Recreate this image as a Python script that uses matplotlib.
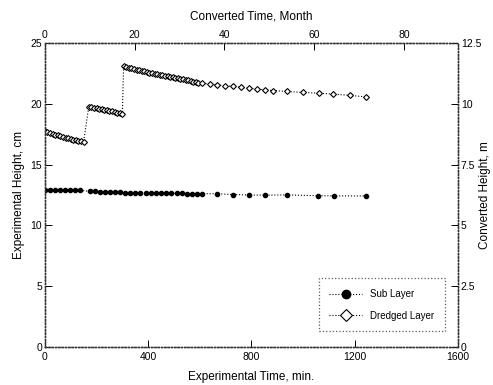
import matplotlib
matplotlib.use("Agg")
import matplotlib.pyplot as plt

plt.rcParams["font.family"] = ["Liberation Sans", "DejaVu Sans"]

# Sub layer (filled circles)
sub_time = [0, 20, 39, 58, 78, 97, 117, 136,
            175, 194, 213, 233, 252, 272, 291,
            310, 330, 350, 370, 390, 410, 430, 450, 470, 490, 510, 530, 550, 570, 590, 608,
            667, 729, 791, 853, 938, 1058, 1120, 1244]
sub_height = [12.95, 12.93, 12.92, 12.91, 12.90, 12.90, 12.89, 12.88,
              12.80, 12.79, 12.78, 12.78, 12.77, 12.77, 12.76,
              12.68, 12.68, 12.67, 12.67, 12.66, 12.66, 12.65, 12.65, 12.64, 12.64, 12.63,
              12.63, 12.62, 12.62, 12.61, 12.61,
              12.60, 12.54, 12.50, 12.49, 12.51, 12.44, 12.43, 12.42]

# Dredged layer (open diamonds)
dredged_time = [0, 10, 20, 30, 40, 50, 60, 70, 80, 90, 100, 110, 120, 130, 140, 150,
                170, 180, 190, 200, 210, 220, 230, 240, 250, 260, 270, 280, 290, 300,
                305, 315, 325, 335, 345, 355, 365, 375, 385, 395, 405, 415, 425, 435, 445,
                455, 465, 475, 485, 495, 505, 515, 525, 535, 545, 555, 565, 575, 585, 595,
                607, 640, 667, 698, 729, 760, 791, 822, 853, 884, 938, 1000, 1062, 1116,
                1182, 1244]
dredged_height = [17.76, 17.68, 17.60, 17.53, 17.47, 17.41, 17.35, 17.29, 17.23, 17.17,
                  17.11, 17.06, 17.01, 16.96, 16.91, 16.87,
                  19.75, 19.72, 19.68, 19.64, 19.60, 19.56, 19.52, 19.47, 19.43, 19.38,
                  19.33, 19.28, 19.23, 19.18,
                  23.10, 23.04, 22.98, 22.93, 22.88, 22.82, 22.77, 22.72, 22.67, 22.62,
                  22.56, 22.51, 22.47, 22.43, 22.39, 22.35, 22.31, 22.27, 22.23, 22.19,
                  22.15, 22.11, 22.07, 22.03, 21.98, 21.93, 21.87, 21.82, 21.77, 21.73,
                  21.70, 21.62, 21.56, 21.50, 21.43, 21.36, 21.28, 21.22, 21.15, 21.10,
                  21.02, 20.94, 20.88, 20.80, 20.70, 20.57]

BOTTOM_TICKS = [0, 400, 800, 1200, 1600]
LEFT_TICKS = [0, 5, 10, 15, 20, 25]
TOP_TICKS = [0, 20, 40, 60, 80]
RIGHT_TICKS = [0, 2.5, 5, 7.5, 10, 12.5]
RIGHT_TICK_LABELS = ["0", "2.5", "5", "7.5", "10", "12.5"]

fig = plt.figure(figsize=(4.93, 3.85), dpi=100)
ax = fig.add_axes([0.091, 0.099, 0.838, 0.789])

ax.plot(sub_time, sub_height, color="black", linestyle=":", linewidth=0.8,
        marker="o", markersize=3.0, markerfacecolor="black",
        markeredgecolor="black", label="Sub Layer")
ax.plot(dredged_time, dredged_height, color="black", linestyle=":", linewidth=0.8,
        marker="D", markersize=3.0, markerfacecolor="white",
        markeredgecolor="black", markeredgewidth=0.8, label="Dredged Layer")

ax.set_xlim(0, 1600)
ax.set_ylim(0, 25)
ax.set_xticks(BOTTOM_TICKS)
ax.set_yticks(LEFT_TICKS)
ax.tick_params(direction="in", length=5, width=0.7, labelsize=7.5)
ax.tick_params(axis="x", pad=4)
ax.tick_params(axis="y", pad=2)
ax.set_xlabel("Experimental Time, min.", fontsize=8.5)
ax.xaxis.set_label_coords(0.5, -0.079)
ax.set_ylabel("Experimental Height, cm", fontsize=8.5, labelpad=4)

top = ax.twiny()
top.set_xlim(0, 92)
top.set_xticks(TOP_TICKS)
top.tick_params(direction="in", length=5, width=0.7, labelsize=7.5, pad=2)
top.set_xlabel("Converted Time, Month", fontsize=8.5, labelpad=8)

right = ax.twinx()
right.set_ylim(0, 12.5)
right.set_yticks(RIGHT_TICKS)
right.set_yticklabels(RIGHT_TICK_LABELS)
right.tick_params(direction="in", length=5, width=0.7, labelsize=7.5, pad=2)
right.set_ylabel("Converted Height, m", fontsize=8.5)
right.yaxis.set_label_coords(1.05, 0.5)

for a in (ax, top, right):
    for spine in a.spines.values():
        spine.set_linestyle(":")
        spine.set_linewidth(0.9)
        spine.set_color("#333333")

leg = ax.legend(loc="lower right", bbox_to_anchor=(0.98, 0.035), fontsize=7,
                frameon=True, fancybox=False, markerscale=2.0,
                handlelength=3.4, borderpad=1.1, labelspacing=1.2)
leg.get_frame().set_edgecolor("#333333")
leg.get_frame().set_linestyle(":")
leg.get_frame().set_linewidth(0.9)

fig.savefig("out.png", dpi=100)
